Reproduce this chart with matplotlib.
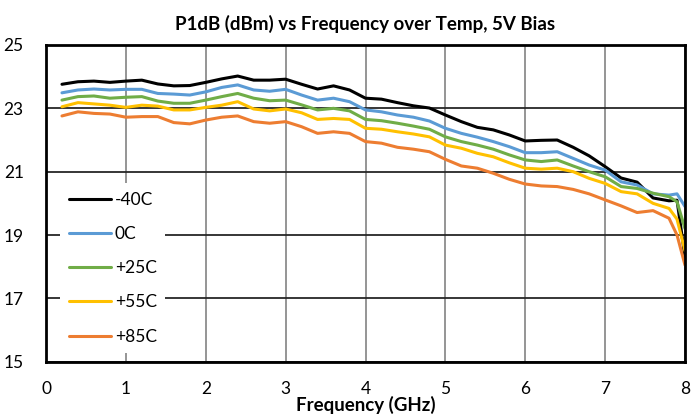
import numpy as np
import matplotlib
matplotlib.use("Agg")
import matplotlib.pyplot as plt

plt.rcParams["font.family"] = ["Lato", "DejaVu Sans"]

# Frequency points (GHz)
freq = [0.2, 0.4, 0.6, 0.8, 1.0, 1.2, 1.4, 1.6, 1.8, 2.0,
        2.2, 2.4, 2.6, 2.8, 3.0, 3.2, 3.4, 3.6, 3.8, 4.0,
        4.2, 4.4, 4.6, 4.8, 5.0, 5.2, 5.4, 5.6, 5.8, 6.0,
        6.2, 6.4, 6.6, 6.8, 7.0, 7.2, 7.4, 7.6, 7.8, 7.9, 8.0]

# P1dB (dBm) per temperature
p_m40 = [23.76, 23.84, 23.86, 23.82, 23.86, 23.89, 23.77, 23.71, 23.72, 23.82,
         23.93, 24.02, 23.89, 23.89, 23.92, 23.76, 23.61, 23.71, 23.58, 23.32,
         23.29, 23.18, 23.08, 23.01, 22.79, 22.58, 22.40, 22.32, 22.16, 21.97,
         21.99, 22.00, 21.77, 21.50, 21.16, 20.80, 20.67, 20.17, 20.08, 20.10, 18.30]
p_0 = [23.49, 23.58, 23.61, 23.58, 23.60, 23.60, 23.47, 23.45, 23.42, 23.52,
       23.66, 23.74, 23.58, 23.54, 23.60, 23.42, 23.26, 23.32, 23.21, 22.95,
       22.89, 22.79, 22.72, 22.60, 22.37, 22.21, 22.09, 21.95, 21.79, 21.60,
       21.60, 21.63, 21.42, 21.21, 21.05, 20.68, 20.58, 20.30, 20.26, 20.30, 19.90]
p_25 = [23.26, 23.37, 23.39, 23.32, 23.35, 23.37, 23.23, 23.16, 23.16, 23.26,
        23.37, 23.47, 23.32, 23.24, 23.26, 23.11, 22.95, 23.00, 22.92, 22.65,
        22.61, 22.53, 22.44, 22.34, 22.10, 21.95, 21.84, 21.71, 21.53, 21.37,
        21.32, 21.37, 21.18, 21.00, 20.84, 20.53, 20.47, 20.32, 20.21, 20.05, 19.20]
p_55 = [23.05, 23.18, 23.14, 23.10, 23.03, 23.10, 23.07, 22.95, 22.95, 23.03,
        23.10, 23.21, 22.98, 22.92, 22.98, 22.86, 22.65, 22.68, 22.65, 22.37,
        22.34, 22.26, 22.19, 22.10, 21.84, 21.74, 21.58, 21.47, 21.28, 21.11,
        21.08, 21.11, 21.00, 20.79, 20.63, 20.37, 20.30, 20.00, 19.84, 19.50, 18.50]
p_85 = [22.76, 22.89, 22.84, 22.82, 22.72, 22.74, 22.74, 22.55, 22.51, 22.63,
        22.72, 22.76, 22.58, 22.53, 22.58, 22.42, 22.21, 22.26, 22.21, 21.95,
        21.90, 21.77, 21.71, 21.63, 21.39, 21.18, 21.11, 20.95, 20.76, 20.61,
        20.55, 20.53, 20.44, 20.30, 20.11, 19.92, 19.71, 19.77, 19.53, 19.00, 18.05]

labels = ["-40C", "0C", "+25C", "+55C", "+85C"]
colors = ["#000000", "#5B9BD5", "#70AD47", "#FFC000", "#ED7D31"]

fig = plt.figure(figsize=(7, 4.2), dpi=100)
ax = fig.add_axes([46 / 700, 1 - 361.7 / 420, 639 / 700, 316.7 / 420])

for series, lab, col in zip([p_m40, p_0, p_25, p_55, p_85], labels, colors):
    ax.plot(freq, series, color=col, lw=2.2, label=lab, zorder=3,
            solid_capstyle="round", solid_joinstyle="round")

ax.set_xlim(0, 8)
ax.set_ylim(15, 25)
ax.set_xticks(np.arange(0, 9, 1))
ax.set_yticks(np.arange(15, 26, 2))

# Excel-like grid: grey verticals, dark horizontals
ax.xaxis.grid(True, color="#8c8c8c", lw=1.3)
ax.yaxis.grid(True, color="#262626", lw=1.3)
ax.set_axisbelow(True)

for s in ax.spines.values():
    s.set_linewidth(2.0)
    s.set_color("black")
    s.set_zorder(4)

ax.tick_params(length=0, labelsize=12.5)
ax.tick_params(axis="x", pad=14)
ax.tick_params(axis="y", pad=16)

ax.set_title("P1dB (dBm) vs Frequency over Temp, 5V Bias",
             fontsize=13.5, fontweight="bold", pad=11)
ax.set_xlabel("Frequency (GHz)", fontsize=13.5, fontweight="bold", labelpad=-1)

leg = ax.legend(loc="upper left", bbox_to_anchor=(60 / 700, 1 - 183 / 420),
                bbox_transform=fig.transFigure, fontsize=12.5, frameon=True,
                fancybox=False, edgecolor="none", facecolor="white", framealpha=1,
                handlelength=2.45, handletextpad=0.2, labelspacing=1.05,
                borderpad=0.5, borderaxespad=0)
leg.set_zorder(5)

fig.savefig("out.png", dpi=100)
